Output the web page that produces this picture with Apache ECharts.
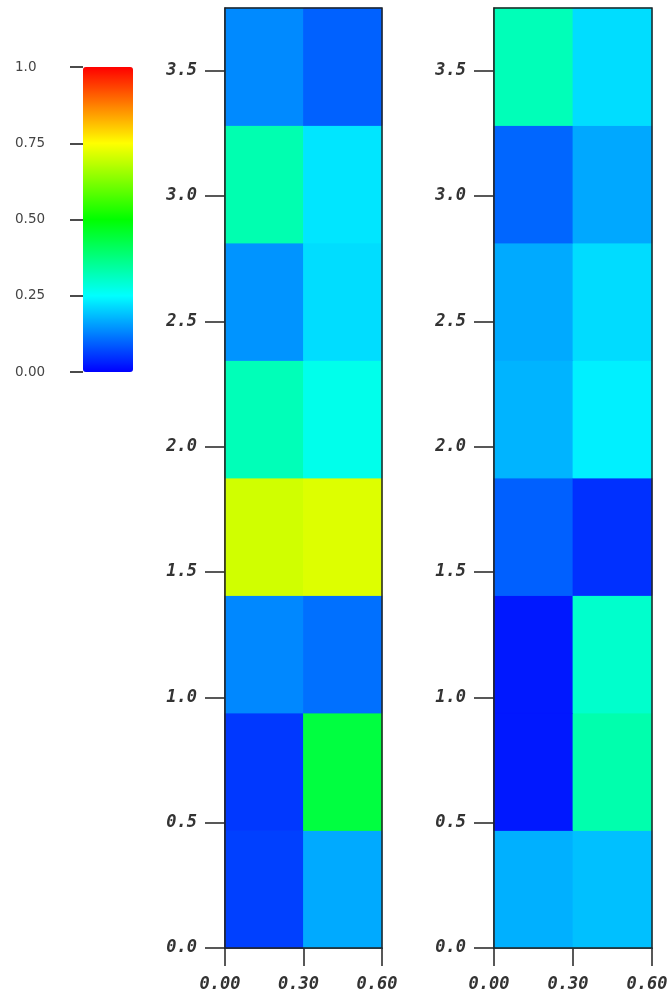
<!DOCTYPE html>
<html>
<head>
<meta charset="UTF-8">
<title>heatmap pair</title>
<script type="text/javascript" src="https://cdn.jsdelivr.net/npm/echarts@6/dist/echarts.min.js"></script>
<style>body{margin:0;background:#fff;}</style>
</head>
<body>
<div id="main" style="width:670px;height:998px"></div>
<script type="text/javascript">
// cell values, rows from bottom (y=0) to top, [column 0-0.3, column 0.3-0.6]
var leftValues = [
  [0.063, 0.167],
  [0.055, 0.437],
  [0.133, 0.110],
  [0.704, 0.717],
  [0.320, 0.270],
  [0.145, 0.217],
  [0.327, 0.225],
  [0.135, 0.095]
];
var rightValues = [
  [0.173, 0.188],
  [0.024, 0.330],
  [0.024, 0.300],
  [0.094, 0.047],
  [0.176, 0.235],
  [0.167, 0.216],
  [0.100, 0.165],
  [0.320, 0.217]
];
var xTicks = [0, 0.3, 0.6];
var yTicks = [0, 0.5, 1.0, 1.5, 2.0, 2.5, 3.0, 3.5];
var barTicks = [0, 0.25, 0.5, 0.75, 1.0];
var colWidth = 0.3;
var rowHeight = 3.75 / 8;

function toCells(vals) {
  var out = [];
  for (var r = 0; r < vals.length; r++) {
    for (var c = 0; c < vals[r].length; c++) {
      out.push([c * colWidth, r * rowHeight, vals[r][c]]);
    }
  }
  return out;
}

function renderCell(params, api) {
  var x0 = api.value(0), y0 = api.value(1);
  var p0 = api.coord([x0, y0 + rowHeight]);
  var p1 = api.coord([x0 + colWidth, y0]);
  var col = api.visual('color');
  return {
    type: 'rect',
    shape: { x: p0[0], y: p0[1], width: p1[0] - p0[0], height: p1[1] - p0[1] },
    style: { fill: col, stroke: col, lineWidth: 0.8 }
  };
}

var tickFont = {
  fontFamily: 'DejaVu Sans Mono',
  fontStyle: 'italic',
  fontWeight: 'bold',
  fontSize: 17,
  color: '#333'
};

function plotX(idx) {
  return {
    type: 'value', gridIndex: idx, min: 0, max: 0.6, interval: 0.3,
    axisLine: { show: true, lineStyle: { color: '#222', width: 1.5 } },
    axisTick: { show: true, length: 18, customValues: xTicks, lineStyle: { color: '#222', width: 1.5 } },
    axisLabel: Object.assign({ margin: 28, padding: [0, 10, 0, 0], customValues: xTicks, formatter: function (v) { return v.toFixed(2); } }, tickFont),
    splitLine: { show: false }
  };
}
function plotY(idx) {
  return {
    type: 'value', gridIndex: idx, min: 0, max: 3.75,
    axisLine: { show: true, lineStyle: { color: '#222', width: 1.5 } },
    axisTick: { show: true, length: 20, customValues: yTicks, lineStyle: { color: '#222', width: 1.5 } },
    axisLabel: Object.assign({ margin: 28, customValues: yTicks, formatter: function (v) { return v.toFixed(1); } }, tickFont),
    splitLine: { show: false }
  };
}

var myChart = echarts.init(document.getElementById('main'));
var option = {
  backgroundColor: '#fff',
  animation: false,
  grid: [
    { left: 225, top: 8, width: 157, height: 940, outerBoundsMode: 'none', show: true, z: 5, borderColor: '#222', borderWidth: 1.5, backgroundColor: 'transparent' },
    { left: 494, top: 8, width: 158, height: 940, outerBoundsMode: 'none', show: true, z: 5, borderColor: '#222', borderWidth: 1.5, backgroundColor: 'transparent' },
    { left: 83, top: 67, width: 50, height: 305, outerBoundsMode: 'none' }
  ],
  xAxis: [
    plotX(0), plotX(1),
    { type: 'value', gridIndex: 2, min: 0, max: 1, show: false }
  ],
  yAxis: [
    plotY(0), plotY(1),
    {
      type: 'value', gridIndex: 2, min: 0, max: 1, interval: 0.25,
      axisLine: { show: false },
      axisTick: { show: true, length: 13, customValues: barTicks, lineStyle: { color: '#111', width: 1.5 } },
      axisLabel: {
        align: 'left', margin: 68, customValues: barTicks,
        fontFamily: 'DejaVu Sans', fontSize: 13.5, color: '#444',
        formatter: function (v) { return v === 1 ? '1.0' : v.toFixed(2); }
      },
      splitLine: { show: false }
    }
  ],
  visualMap: {
    type: 'continuous',
    min: 0, max: 1,
    dimension: 2,
    seriesIndex: [0, 1],
    left: 83, top: 67,
    padding: 0,
    itemWidth: 50, itemHeight: 305,
    calculable: false,
    text: null,
    inRange: { color: ['#0000ff', '#00ffff', '#00ff00', '#ffff00', '#ff0000'] }
  },
  series: [
    { type: 'custom', xAxisIndex: 0, yAxisIndex: 0, renderItem: renderCell, encode: { x: 0, y: 1 }, data: toCells(leftValues) },
    { type: 'custom', xAxisIndex: 1, yAxisIndex: 1, renderItem: renderCell, encode: { x: 0, y: 1 }, data: toCells(rightValues) }
  ]
};
myChart.setOption(option);
</script>
</body>
</html>
